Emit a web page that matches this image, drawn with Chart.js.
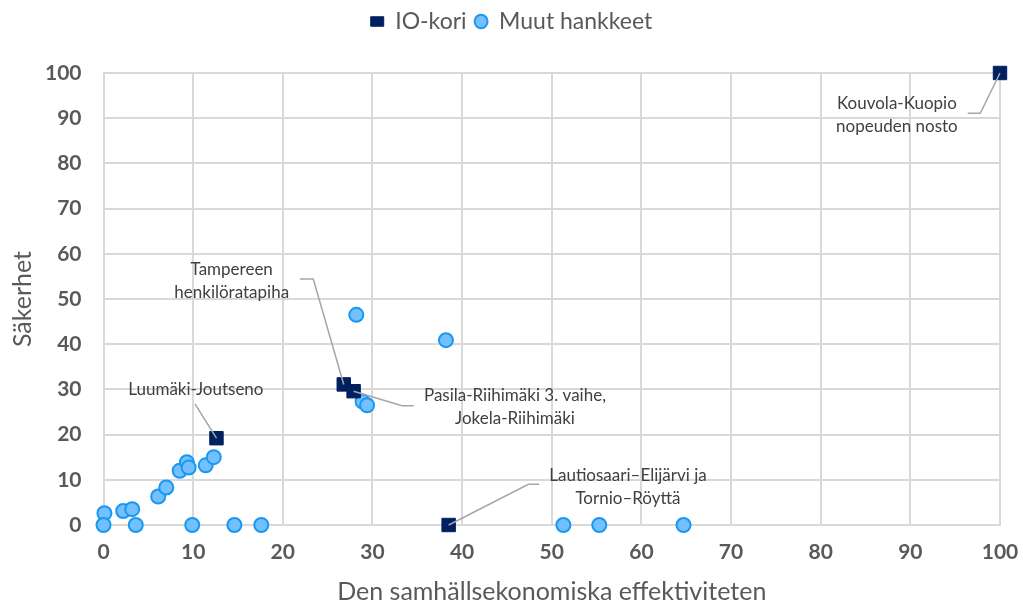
<!DOCTYPE html>
<html>
<head>
<meta charset="utf-8">
<script src="https://cdn.jsdelivr.net/npm/chart.js@4"></script>
<style>
    body { margin: 0; background: #ffffff; }
    #wrap { width: 1023px; height: 607px; }
</style>
</head>
<body>
<div id="wrap"><canvas id="myChart" width="1023" height="607"></canvas></div>
<script>
// IO-kori -hankkeet
const ioX = [12.6, 26.8, 27.9, 38.5, 100];
const ioY = [19.2, 31.1, 29.6, 0, 100];

// Muut hankkeet
const muutX = [0.1, 0, 2.2, 3.2, 3.6, 6.1, 7.0, 8.5, 9.3, 9.5, 9.9, 11.4, 12.3, 14.6, 17.6,
    28.2, 38.2, 28.9, 29.4, 51.3, 55.3, 64.7];
const muutY = [2.6, 0, 3.1, 3.5, 0, 6.3, 8.3, 12.0, 13.9, 12.7, 0, 13.2, 15.0, 0, 0,
    46.5, 40.9, 27.3, 26.5, 0, 0, 0];

const tickValues = [0, 10, 20, 30, 40, 50, 60, 70, 80, 90, 100];

// selitteet IO-kori pisteille (piste = indeksi ioX/ioY:ssä)
const labelTexts = [
    ["Luumäki-Joutseno"],
    ["Tampereen", "henkilöratapiha"],
    ["Pasila-Riihimäki 3. vaihe,", "Jokela-Riihimäki"],
    ["Lautiosaari–Elijärvi ja", "Tornio–Röyttä"],
    ["Kouvola-Kuopio", "nopeuden nosto"]
];
const labelPoint = [0, 1, 2, 3, 4];
// tekstin keskikohta ja viivan taitekohdat (data-arvoina)
const labelCenter = [[10.3, 29.9], [14.3, 54.0], [45.9, 26.1], [58.5, 8.5], [88.5, 90.6]];
const labelPath = [
    [[10.2, 26.8]],
    [[21.9, 54.4], [23.4, 54.4]],
    [[34.6, 26.4], [33.3, 26.4]],
    [[48.6, 9.0], [47.4, 9.0]],
    [[96.4, 91.1], [97.8, 91.1]]
];

const textColor = "#595959";
const gridColor = "#d9d9d9";

// selite ylös kuvan reunaan, kuvaaja pysyy paikallaan
const legendUp = {
    id: "legendUp",
    afterLayout(chart) {
        const lg = chart.legend;
        if (!lg) return;
        lg.top -= 30;
        lg.bottom -= 30;
    }
};

const leaderLabels = {
    id: "leaderLabels",
    afterDatasetsDraw(chart) {
        const ctx = chart.ctx;
        const xs = chart.scales.x;
        const ys = chart.scales.y;
        ctx.save();
        // viivat
        ctx.strokeStyle = "#a6a6a6";
        ctx.lineWidth = 1.5;
        for (let i = 0; i < labelTexts.length; i++) {
            const p = labelPoint[i];
            ctx.beginPath();
            labelPath[i].forEach((pt, k) => {
                const px = xs.getPixelForValue(pt[0]);
                const py = ys.getPixelForValue(pt[1]);
                if (k === 0) ctx.moveTo(px, py); else ctx.lineTo(px, py);
            });
            ctx.lineTo(xs.getPixelForValue(ioX[p]), ys.getPixelForValue(ioY[p]));
            ctx.stroke();
        }
        // tekstit
        ctx.fillStyle = "#404040";
        ctx.font = "17px Lato";
        ctx.textAlign = "center";
        ctx.textBaseline = "middle";
        const lineH = 23;
        for (let i = 0; i < labelTexts.length; i++) {
            const lines = labelTexts[i];
            const cx = xs.getPixelForValue(labelCenter[i][0]);
            const cy = ys.getPixelForValue(labelCenter[i][1]);
            const y0 = cy - (lines.length - 1) * lineH / 2;
            lines.forEach((t, k) => ctx.fillText(t, cx, y0 + k * lineH));
        }
        ctx.restore();
    }
};

function toPoints(xs, ys) {
    return xs.map((x, i) => ({ x: x, y: ys[i] }));
}

const canvas = document.getElementById("myChart");
new Chart(canvas, {
    type: "scatter",
    data: {
        datasets: [{
            label: "IO-kori",
            data: toPoints(ioX, ioY),
            pointStyle: "rect",
            pointRadius: 9.5,
            pointHoverRadius: 9.5,
            backgroundColor: "#002060",
            borderColor: "#002060",
            borderWidth: 1,
            clip: false,
            order: 1
        }, {
            label: "Muut hankkeet",
            data: toPoints(muutX, muutY),
            pointStyle: "circle",
            pointRadius: 7,
            pointHoverRadius: 7,
            backgroundColor: "#72c0ff",
            borderColor: "#1a98f0",
            borderWidth: 2,
            clip: false,
            order: 2
        }]
    },
    options: {
        responsive: false,
        animation: false,
        layout: { padding: 0 },
        plugins: {
            legend: {
                display: true,
                position: "top",
                labels: {
                    usePointStyle: true,
                    boxWidth: 9.5,
                    boxHeight: 9.5,
                    pointStyleWidth: 13,
                    padding: 8,
                    color: textColor,
                    font: { family: "Lato", size: 23 }
                }
            },
            tooltip: { enabled: false }
        },
        scales: {
            x: {
                type: "linear",
                min: 0,
                max: 100,
                afterBuildTicks: (scale) => { scale.ticks = tickValues.map(v => ({ value: v })); },
                afterFit: (scale) => {
                    scale.height = 82;
                    scale.paddingLeft = 0;
                    scale.paddingRight = 23;
                },
                grid: { color: gridColor, lineWidth: 2, drawTicks: false },
                border: { color: gridColor, width: 2 },
                ticks: {
                    padding: 15,
                    color: textColor,
                    font: { family: "Lato", size: 21, weight: "bold" }
                },
                title: {
                    display: true,
                    text: "Den samhällsekonomiska effektiviteten",
                    color: textColor,
                    font: { family: "Lato", size: 25 },
                    padding: { top: 4, bottom: 0 }
                }
            },
            y: {
                type: "linear",
                min: 0,
                max: 100,
                afterBuildTicks: (scale) => { scale.ticks = tickValues.map(v => ({ value: v })); },
                afterFit: (scale) => {
                    scale.width = 103.5;
                    scale.paddingTop = 73;
                    scale.paddingBottom = 0;
                },
                grid: { color: gridColor, lineWidth: 2, drawTicks: false },
                border: { color: gridColor, width: 2 },
                ticks: {
                    padding: 22,
                    color: textColor,
                    font: { family: "Lato", size: 21, weight: "bold" }
                },
                title: {
                    display: true,
                    text: "Säkerhet",
                    color: textColor,
                    font: { family: "Lato", size: 25 },
                    padding: { top: 8, bottom: 0 }
                }
            }
        }
    },
    plugins: [legendUp, leaderLabels]
});
</script>
</body>
</html>
